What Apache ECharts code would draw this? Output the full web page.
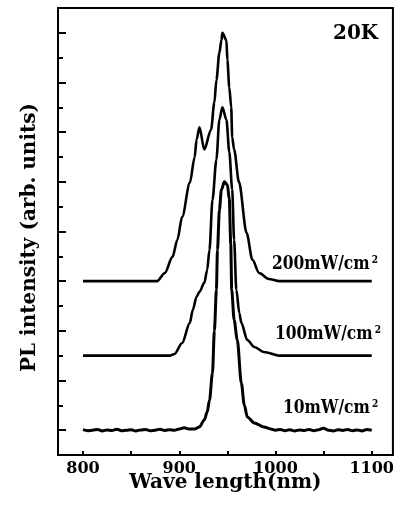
<!DOCTYPE html>
<html>
<head>
<meta charset="utf-8">
<script src="https://cdn.jsdelivr.net/npm/echarts@6/dist/echarts.min.js"></script>
<style>
html,body{margin:0;padding:0;background:#fff;}
#chart{width:397px;height:508px;}
</style>
</head>
<body>
<div id="chart"></div>
<script>
// ---- data (wavelength in nm, PL intensity in arb. units, curves offset) ----
const wl200 = [800, 877, 885, 893, 898, 903, 911, 916, 918, 921, 926, 933, 936.5, 938.6, 941.7, 943.8, 944.8, 949, 950, 952, 954, 955, 957, 962, 970, 976, 983, 993, 1004, 1100];
const pl200 = [7.0, 7.0, 7.33, 7.98, 8.66, 9.59, 10.96, 12.0, 12.7, 13.2, 12.3, 13.1, 14.2, 15.1, 16.2, 16.7, 17.0, 16.7, 15.9, 14.8, 14.0, 12.8, 12.3, 11.0, 8.94, 7.86, 7.33, 7.09, 7.0, 7.0];

const wl100 = [800, 890, 895, 903, 911, 914, 918, 921, 926, 929, 931.4, 934.5, 938.6, 941.7, 944.8, 949, 952, 955, 957, 959.3, 962.4, 964.5, 970.7, 978, 988, 1004, 1100];
const pl100 = [4.0, 4.0, 4.07, 4.51, 5.32, 5.84, 6.37, 6.57, 6.93, 7.45, 8.26, 10.27, 11.9, 13.5, 14.0, 13.5, 12.2, 10.7, 8.66, 6.65, 5.72, 5.32, 4.63, 4.35, 4.15, 4.0, 4.0];

const wl10 = [800, 805, 810, 815, 820, 825, 830, 835, 840, 845, 850, 855, 860, 865, 870, 875, 880, 885, 890, 895, 900, 905, 910, 916, 921, 926, 929, 931.4, 934.5, 936.5, 938.6, 939.7, 941.7, 943.8, 946.9, 950, 952, 953.5, 954.5, 957, 960.3, 964.5, 967.6, 970.7, 978, 988, 995, 1000, 1005, 1010, 1015, 1020, 1025, 1030, 1035, 1040, 1045, 1050, 1055, 1060, 1065, 1070, 1075, 1080, 1085, 1090, 1095, 1100];
const pl10 = [1.02, 0.98, 1.0, 1.03, 0.97, 1.01, 0.99, 1.04, 0.98, 1.0, 1.02, 0.97, 1.01, 1.03, 0.98, 1.0, 1.04, 0.99, 1.02, 1.0, 1.05, 1.1, 1.05, 1.05, 1.13, 1.41, 1.73, 2.2, 3.3, 5.0, 6.65, 8.26, 9.87, 10.68, 11.0, 10.88, 10.3, 8.5, 6.65, 5.44, 4.63, 2.9, 2.01, 1.53, 1.29, 1.13, 1.05, 1.0, 1.03, 0.98, 1.02, 0.97, 1.01, 0.99, 1.03, 0.98, 1.02, 1.08, 1.0, 0.97, 1.02, 0.99, 1.03, 0.98, 1.01, 0.97, 1.03, 1.0];

const xTickValues = [800, 850, 900, 950, 1000, 1050, 1100];
const xLabelValues = [800, 900, 1000, 1100];
const yLongTicks = [1, 3, 5, 7, 9, 11, 13, 15, 17];
const yShortTicks = [2, 4, 6, 8, 10, 12, 14, 16];

const seriesNames = ['200mW/cm', '100mW/cm', '10mW/cm'];
const tempLabel = '20K';

function pairs(xs, ys){ return xs.map((x,i)=>[x, ys[i]]); }

const FONT = 'DejaVu Serif';
const chart = echarts.init(document.getElementById('chart'), null, {renderer:'canvas'});

function mkSeries(name, data, w){
  return {
    name, type:'line', data, showSymbol:false, symbol:'none',
    smooth:0.3, smoothMonotone:'x',
    lineStyle:{color:'#000', width:w}, itemStyle:{color:'#000'},
    animation:false, z:3
  };
}

function labelText(txt){
  return {
    type:'text',
    scaleY:1.15,
    style:{
      text: txt + '{s|2}',
      font: 'bold 15.5px "' + FONT + '"',
      fill:'#000',
      rich:{ s:{ fontSize:9, fontWeight:'bold', fontFamily:FONT, verticalAlign:'top', fill:'#000', padding:[0,0,0,2] } }
    }
  };
}

const option = {
  backgroundColor:'#fff',
  animation:false,
  grid:{left:58, right:3, top:8, bottom:53, show:true, borderColor:'#000', borderWidth:2, backgroundColor:'transparent'},
  xAxis:{
    type:'value', min:774, max:1122,
    axisLine:{show:true, lineStyle:{color:'#000', width:2}},
    axisTick:{show:true, inside:true, length:4, customValues:xTickValues, lineStyle:{color:'#000', width:2}},
    axisLabel:{show:true, customValues:xLabelValues, margin:6, color:'#000', fontFamily:FONT, fontWeight:'bold', fontSize:16,
      formatter:function(v){ return String(v); }},
    splitLine:{show:false},
    name:'Wave length(nm)', nameLocation:'middle', nameGap:18, nameMoveOverlap:false,
    nameTextStyle:{color:'#000', fontFamily:FONT, fontWeight:'bold', fontSize:20}
  },
  yAxis:[{
    type:'value', min:0, max:18, interval:1,
    axisLine:{show:true, lineStyle:{color:'#000', width:2}},
    axisTick:{show:true, inside:true, length:8, customValues:yLongTicks, lineStyle:{color:'#000', width:2}},
    axisLabel:{show:false},
    splitLine:{show:false},
    name:'PL intensity (arb. units)', nameLocation:'middle', nameRotate:90, nameGap:18,
    nameTextStyle:{color:'#000', fontFamily:FONT, fontWeight:'bold', fontSize:20, padding:[0,12,0,0]}
  },{
    type:'value', min:0, max:18, interval:1, position:'left',
    axisLine:{show:false},
    axisTick:{show:true, inside:true, length:5, customValues:yShortTicks, lineStyle:{color:'#000', width:2}},
    axisLabel:{show:false},
    splitLine:{show:false}
  }],
  series:[
    mkSeries(seriesNames[0], pairs(wl200, pl200), 2.6),
    mkSeries(seriesNames[1], pairs(wl100, pl100), 2.6),
    mkSeries(seriesNames[2], pairs(wl10, pl10), 3)
  ],
  graphic:[
    Object.assign(labelText(seriesNames[0]), {left:272, top:255}),
    Object.assign(labelText(seriesNames[1]), {left:275, top:325}),
    Object.assign(labelText(seriesNames[2]), {left:283, top:399}),
    {type:'text', left:333, top:24, style:{text:tempLabel, font:'bold 20px "' + FONT + '"', fill:'#000'}}
  ]
};
chart.setOption(option);
</script>
</body>
</html>
